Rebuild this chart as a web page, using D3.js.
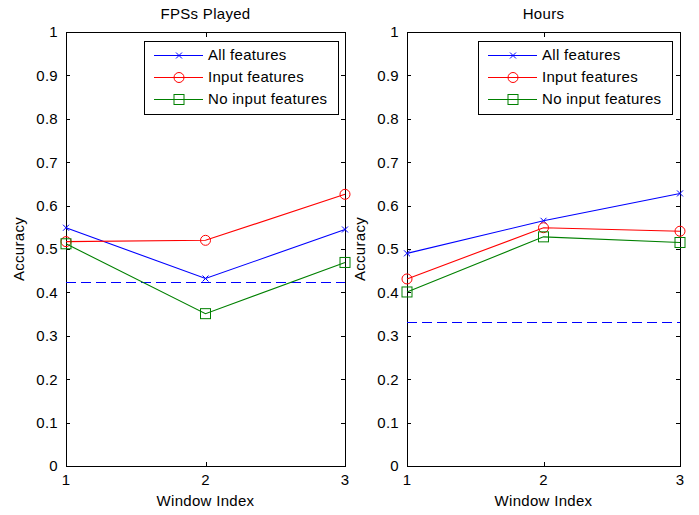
<!DOCTYPE html>
<html><head><meta charset="utf-8">
<script src="https://cdn.jsdelivr.net/npm/d3@7"></script>
<style>body{margin:0;background:#fff}svg{display:block}text{font-family:"Liberation Sans",Arial,sans-serif;fill:#000;letter-spacing:0.3px}</style>
</head><body><svg id="c" width="699" height="515"></svg>
<script>
const windows = [1, 2, 3];
const yTicks = [0,0.1,0.2,0.3,0.4,0.5,0.6,0.7,0.8,0.9,1];
const seriesNames = ["All features", "Input features", "No input features"];
const fpsAll = [0.549, 0.432, 0.545];
const fpsInput = [0.517, 0.520, 0.626];
const fpsNoInput = [0.512, 0.351, 0.469];
const fpsBaseline = 0.424;
const hoursAll = [0.490, 0.565, 0.628];
const hoursInput = [0.431, 0.549, 0.541];
const hoursNoInput = [0.401, 0.528, 0.515];
const hoursBaseline = 0.331;

const colors = ["#0000ff", "#ff0000", "#008000"];
const markers = ["x", "o", "s"];
const svg = d3.select("#c");
const FS = 15;

function panel(opt) {
  const {x0, x1, title, series, baseline, legX} = opt;
  const x = d3.scaleLinear().domain([1,3]).range([x0, x1]);
  const y = d3.scaleLinear().domain([0,1]).range([466, 32]);
  const g = svg.append("g");
  g.append("rect").attr("x", x0+0.5).attr("y", 32.5).attr("width", x1-x0).attr("height", 434)
    .attr("fill", "#fff").attr("stroke", "#000").attr("stroke-width", 1);
  yTicks.forEach(t => {
    const yy = Math.round(y(t)) + 0.5;
    g.append("line").attr("x1", x0).attr("x2", x0+4).attr("y1", yy).attr("y2", yy).attr("stroke","#000");
    g.append("line").attr("x1", x1).attr("x2", x1-4).attr("y1", yy).attr("y2", yy).attr("stroke","#000");
    g.append("text").attr("x", x0-8).attr("y", y(t)).attr("dy", "0.36em").attr("text-anchor","end")
      .attr("font-size", FS).text(d3.format("")(t));
  });
  windows.forEach(w => {
    const xx = Math.round(x(w)) + 0.5;
    g.append("line").attr("x1", xx).attr("x2", xx).attr("y1", 466).attr("y2", 462).attr("stroke","#000");
    g.append("line").attr("x1", xx).attr("x2", xx).attr("y1", 33).attr("y2", 37).attr("stroke","#000");
    g.append("text").attr("x", x(w)).attr("y", 485).attr("text-anchor","middle").attr("font-size", FS).text(w);
  });
  g.append("text").attr("x", (x0+x1)/2).attr("y", 506).attr("text-anchor","middle").attr("font-size", FS).text("Window Index");
  g.append("text").attr("x", (x0+x1)/2).attr("y", 19).attr("text-anchor","middle").attr("font-size", FS).text(title);
  g.append("text").attr("transform", `translate(${x0-42},${y(0.5)}) rotate(-90)`).attr("text-anchor","middle")
    .attr("font-size", FS).text("Accuracy");

  const by = Math.round(y(baseline)) + 0.5;
  g.append("line").attr("x1", x(1)).attr("x2", x(3)).attr("y1", by).attr("y2", by)
    .attr("stroke", "#0000ff").attr("stroke-dasharray", "10,5").attr("stroke-width", 1.2);

  const line = d3.line().x((d,i) => x(windows[i])).y(d => y(d));
  series.forEach((s, k) => {
    g.append("path").attr("d", line(s)).attr("fill","none").attr("stroke", colors[k]).attr("stroke-width", 1.1);
    s.forEach((v, i) => drawMarker(g, markers[k], x(windows[i]), y(v), colors[k]));
  });

  const lg = g.append("g");
  lg.append("rect").attr("x", legX+0.5).attr("y", 41.5).attr("width", 194).attr("height", 73)
    .attr("fill", "#fff").attr("stroke", "#000");
  const rows = [55, 77, 99];
  seriesNames.forEach((n, k) => {
    lg.append("line").attr("x1", legX+10).attr("x2", legX+59).attr("y1", rows[k]+0.5).attr("y2", rows[k]+0.5).attr("stroke", colors[k]);
    drawMarker(lg, markers[k], legX+35, rows[k]+0.5, colors[k]);
    lg.append("text").attr("x", legX+64).attr("y", rows[k]).attr("dy","0.36em").attr("font-size", FS).text(n);
  });
}

function drawMarker(g, m, cx, cy, c) {
  if (m === "x") {
    const r = 3;
    g.append("path").attr("d", `M${cx-r},${cy-r}L${cx+r},${cy+r}M${cx-r},${cy+r}L${cx+r},${cy-r}`).attr("stroke", c).attr("fill","none");
  } else if (m === "o") {
    g.append("circle").attr("cx", cx).attr("cy", cy).attr("r", 5).attr("stroke", c).attr("fill","none");
  } else {
    g.append("rect").attr("x", cx-5).attr("y", cy-5).attr("width", 10).attr("height", 10).attr("stroke", c).attr("fill","none");
  }
}

panel({x0: 66, x1: 345, title: "FPSs Played", series: [fpsAll, fpsInput, fpsNoInput], baseline: fpsBaseline, legX: 144});
panel({x0: 407, x1: 680, title: "Hours", series: [hoursAll, hoursInput, hoursNoInput], baseline: hoursBaseline, legX: 478});
</script></body></html>
